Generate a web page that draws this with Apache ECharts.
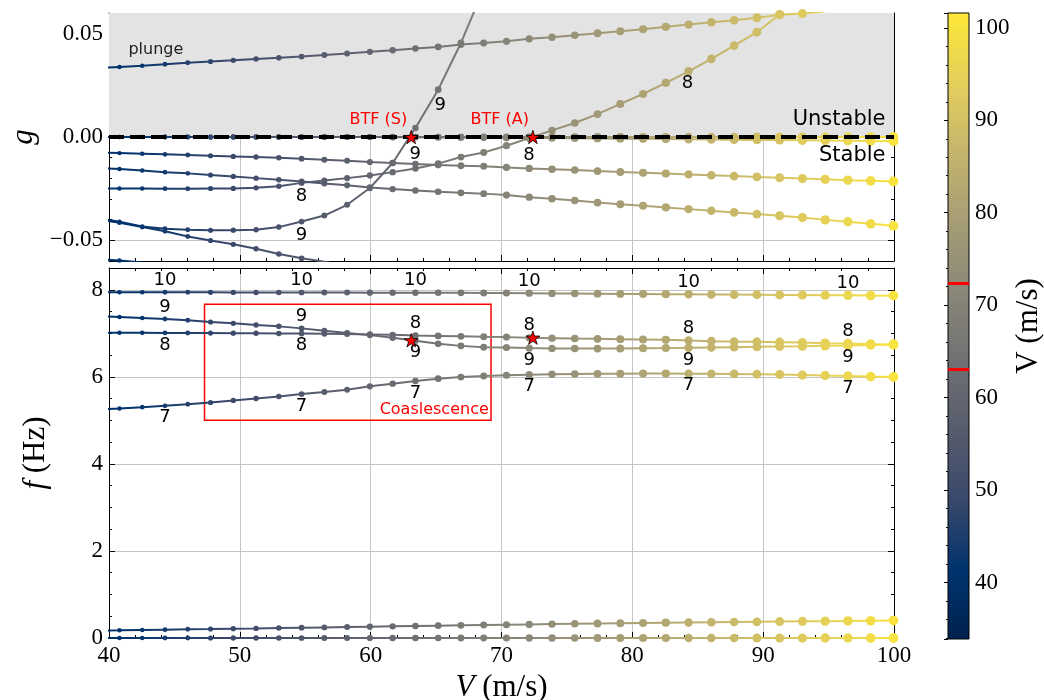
<!DOCTYPE html>
<html>
<head>
<meta charset="utf-8">
<script src="https://cdn.jsdelivr.net/npm/echarts@6/dist/echarts.min.js"></script>
<style>
  html, body { margin: 0; padding: 0; background: #ffffff; }
  #chart { width: 1044px; height: 700px; }
</style>
</head>
<body>
<div id="chart"></div>
<script>
// Airspeed samples V (m/s); the first one lies just left of the axis window
const speed = [39.06, 40.80, 42.54, 44.28, 46.02, 47.76, 49.50, 51.24, 52.98, 54.72,
  56.46, 58.20, 59.94, 61.68, 63.42, 65.16, 66.90, 68.64, 70.38, 72.12,
  73.86, 75.60, 77.34, 79.08, 80.82, 82.56, 84.30, 86.04, 87.78, 89.52,
  91.26, 93.00, 94.74, 96.48, 98.22, 99.96];

// Damping g of each branch ('-' = off the plotted range)
const gPlunge = [0.0333, 0.0339, 0.0345, 0.0352, 0.0359, 0.0365, 0.0371, 0.0378, 0.0383, 0.0389,
  0.0397, 0.0404, 0.0412, 0.0420, 0.0428, 0.0436, 0.0447, 0.0455, 0.0463, 0.0475,
  0.0483, 0.0492, 0.0502, 0.0512, 0.0521, 0.0533, 0.0544, 0.0555, 0.0565, 0.0577,
  0.0591, 0.0597, 0.0609, 0.0620, 0.0632, 0.0644];
const gRigid = [0, 0, 0, 0, 0, 0, 0, 0, 0, 0, 0, 0, 0, 0, 0, 0, 0, 0,
  0, 0, 0, 0, 0, 0, 0, 0, 0, 0, 0, 0, 0, 0, 0, 0, 0, 0];
const gLow = [0, 0, 0, 0, 0, 0, 0, 0, 0, 0, 0, 0, 0,
  -0.0001, -0.0001, -0.0002, -0.0002, -0.0003, -0.0004, -0.0005, -0.0005, -0.0006, -0.0007,
  -0.0008, -0.0009, -0.0010, -0.0011, -0.0012, -0.0013, -0.0014, -0.0015, -0.0016, -0.0017,
  -0.0018, -0.0019, -0.0020];
const gMode7 = [-0.0075, -0.0078, -0.0081, -0.0084, -0.0087, -0.0091, -0.0094, -0.0097, -0.0100, -0.0105,
  -0.0110, -0.0115, -0.0121, -0.0126, -0.0131, -0.0136, -0.0139, -0.0142, -0.0147, -0.0152,
  -0.0156, -0.0160, -0.0165, -0.0169, -0.0173, -0.0177, -0.0181, -0.0185, -0.0189, -0.0193,
  -0.0197, -0.0201, -0.0205, -0.0209, -0.0212, -0.0215];
const gMode10 = [-0.0149, -0.0155, -0.0162, -0.0170, -0.0176, -0.0184, -0.0191, -0.0199, -0.0207, -0.0215,
  -0.0225, -0.0234, -0.0244, -0.0252, -0.0259, -0.0265, -0.0270, -0.0274, -0.0281, -0.0291,
  -0.0299, -0.0307, -0.0317, -0.0325, -0.0333, -0.0341, -0.0349, -0.0357, -0.0365, -0.0373,
  -0.0381, -0.0390, -0.0401, -0.0410, -0.0420, -0.0430];
const gMode8 = [-0.0249, -0.0249, -0.0249, -0.0250, -0.0250, -0.0249, -0.0249, -0.0246, -0.0238, -0.0222,
  -0.0210, -0.0199, -0.0186, -0.0170, -0.0152, -0.0129, -0.0097, -0.0075, -0.0042, -0.0005,
  0.0032, 0.0068, 0.0111, 0.0160, 0.0208, 0.0262, 0.0318, 0.0378, 0.0442, 0.0507,
  0.0593, 0.0680, '-', '-', '-', '-'];
const gMode9 = [-0.0390, -0.0410, -0.0433, -0.0444, -0.0449, -0.0451, -0.0451, -0.0449, -0.0436, -0.0409,
  -0.0380, -0.0328, -0.0247, -0.0126, 0.0044, 0.0229, 0.0455, 0.0717, 0.1000, '-',
  '-', '-', '-', '-', '-', '-', '-', '-', '-', '-', '-', '-', '-', '-', '-', '-'];
const gLag = [-0.0398, -0.0415, -0.0436, -0.0456, -0.0481, -0.0501, -0.0519, -0.0541, -0.0566, -0.0587,
  -0.0603, -0.0625, -0.0648, '-', '-', '-', '-', '-', '-', '-',
  '-', '-', '-', '-', '-', '-', '-', '-', '-', '-', '-', '-', '-', '-', '-', '-'];
const gDeep = [-0.0590, -0.0598, -0.0607, '-', '-', '-', '-', '-', '-', '-',
  '-', '-', '-', '-', '-', '-', '-', '-', '-', '-',
  '-', '-', '-', '-', '-', '-', '-', '-', '-', '-', '-', '-', '-', '-', '-', '-'];

// Frequencies f (Hz)
const fRigid = [0, 0, 0, 0, 0, 0, 0, 0, 0, 0, 0, 0, 0, 0, 0, 0, 0, 0,
  0, 0, 0, 0, 0, 0, 0, 0, 0, 0, 0, 0, 0, 0, 0, 0, 0, 0];
const fLow = [0.169, 0.176, 0.184, 0.191, 0.199, 0.206, 0.214, 0.221, 0.229, 0.236,
  0.244, 0.252, 0.260, 0.268, 0.276, 0.283, 0.291, 0.298, 0.305, 0.312,
  0.319, 0.326, 0.333, 0.339, 0.345, 0.351, 0.357, 0.362, 0.367, 0.372,
  0.377, 0.382, 0.387, 0.392, 0.396, 0.400];
const fMode7 = [5.245, 5.273, 5.303, 5.335, 5.372, 5.411, 5.457, 5.503, 5.550, 5.603,
  5.650, 5.704, 5.781, 5.843, 5.903, 5.958, 5.995, 6.018, 6.035, 6.050,
  6.060, 6.066, 6.070, 6.073, 6.075, 6.075, 6.073, 6.070, 6.066, 6.060,
  6.052, 6.042, 6.030, 6.019, 6.006, 5.996];
const fMode8 = [7.013, 7.012, 7.010, 7.008, 7.006, 7.004, 7.002, 7.000, 6.997, 6.994,
  6.990, 6.984, 6.975, 6.965, 6.950, 6.940, 6.930, 6.920, 6.912, 6.897,
  6.889, 6.881, 6.874, 6.866, 6.858, 6.851, 6.835, 6.820, 6.812, 6.805,
  6.797, 6.789, 6.774, 6.766, 6.751, 6.743];
const fMode9 = [7.395, 7.374, 7.351, 7.328, 7.298, 7.259, 7.228, 7.189, 7.159, 7.113,
  7.058, 7.005, 6.958, 6.896, 6.827, 6.758, 6.711, 6.681, 6.674, 6.660,
  6.652, 6.650, 6.650, 6.651, 6.656, 6.660, 6.666, 6.674, 6.681, 6.689,
  6.697, 6.704, 6.712, 6.720, 6.733, 6.743];
const fMode10 = [7.945, 7.945, 7.944, 7.943, 7.942, 7.941, 7.940, 7.939, 7.938, 7.937,
  7.936, 7.935, 7.934, 7.933, 7.932, 7.931, 7.930, 7.928, 7.926, 7.922,
  7.917, 7.913, 7.909, 7.905, 7.902, 7.899, 7.896, 7.893, 7.890, 7.886,
  7.882, 7.879, 7.875, 7.872, 7.868, 7.865];

// Flutter onsets: symmetric and antisymmetric
const btfSpeed = [63.1, 72.4];
const btfDamping = [0, 0];
const btfFreq = [6.84, 6.90];
const btfNames = ['BTF (S)', 'BTF (A)'];
const btfModes = ['9', '8'];

// Frequency coalescence window
const boxSpeed = [47.3, 69.2];
const boxFreq = [5.0, 7.67];

// Axis ranges
const speedRange = [40, 100];
const gRange = [-0.06, 0.06];
const fRange = [0, 8.5];
const colorRange = [33.9, 101.6];

// Samples at which the mode numbers are printed
const modeLabelIdx = [3, 9, 14, 19, 26, 33];

// cividis colour map
const cividis = ['#00224e', '#00336f', '#39486b', '#575c6d', '#707173',
  '#8a8779', '#a69d75', '#c4b56c', '#e4cf5b', '#fee838'];

const SERIF = 'Liberation Serif';
const SANS = 'DejaVu Sans';

const toPts = ys => speed.map((v, i) => [v, ys[i]]);
const markerSize = val => 4.4 + (val[0] - 40) * 0.09;

function curve(name, ys, ax) {
  return {
    name, type: 'line', xAxisIndex: ax, yAxisIndex: ax, data: toPts(ys),
    symbol: 'circle', symbolSize: markerSize, showSymbol: true,
    itemStyle: { opacity: 1 },
    lineStyle: { width: 2 }, clip: true, z: 3, silent: true
  };
}
// branch lying on the stability boundary: line under the dashes, dots above
function boundaryLine(name, ys) {
  return {
    name, type: 'line', xAxisIndex: 0, yAxisIndex: 0, data: toPts(ys),
    showSymbol: false, lineStyle: { width: 2 }, clip: true, z: 1, silent: true
  };
}
function boundaryDots(name, ys) {
  return {
    name, type: 'scatter', xAxisIndex: 0, yAxisIndex: 0, data: toPts(ys),
    symbol: 'circle', symbolSize: markerSize, itemStyle: { opacity: 1 },
    clip: true, z: 3, silent: true
  };
}

function textLayer(ax, items, base) {
  return {
    type: 'scatter', xAxisIndex: ax, yAxisIndex: ax, silent: true, z: 6,
    symbol: 'circle', symbolSize: 1, itemStyle: { color: 'rgba(0,0,0,0)', opacity: 1 }, clip: false,
    label: Object.assign({
      show: true, position: 'inside', formatter: '{b}', opacity: 1,
      fontFamily: SANS, fontSize: 18, color: '#000', textBorderWidth: 0
    }, base || {}),
    data: items.map(it => ({
      name: it.text, value: [it.x, it.y],
      label: Object.assign({ offset: [it.dx || 0, it.dy || 0] }, it.style || {})
    }))
  };
}

const series = [];

// unstable half-plane of the damping panel
series.push({
  type: 'line', xAxisIndex: 0, yAxisIndex: 0, data: [], z: -1, silent: true,
  markArea: {
    silent: true, itemStyle: { color: '#e3e3e3', opacity: 1 },
    data: [[{ yAxis: 0 }, { yAxis: gRange[1] }]]
  }
});
// stability boundary g = 0
series.push({
  type: 'line', xAxisIndex: 0, yAxisIndex: 0, data: [], z: 2, silent: true,
  markLine: {
    silent: true, symbol: 'none', label: { show: false },
    lineStyle: { color: '#000', width: 4, type: [15, 6], opacity: 1 },
    data: [{ yAxis: 0 }]
  }
});

const curveIdx = [];
function addColored(s) { curveIdx.push(series.length); series.push(s); }

addColored(boundaryLine('rigid', gRigid));
addColored(boundaryLine('low', gLow));
addColored(boundaryDots('rigid dots', gRigid));
addColored(boundaryDots('low dots', gLow));
[['plunge', gPlunge], ['mode 7', gMode7], ['mode 10', gMode10],
 ['mode 8', gMode8], ['mode 9', gMode9], ['lag', gLag], ['deep', gDeep]].forEach(([n, ys]) => {
  addColored(curve(n, ys, 0));
});
[['rigid f', fRigid], ['low f', fLow], ['mode 7 f', fMode7], ['mode 8 f', fMode8],
 ['mode 9 f', fMode9], ['mode 10 f', fMode10]].forEach(([n, ys]) => {
  addColored(curve(n, ys, 2));
});

// coalescence window
series.push({
  type: 'line', xAxisIndex: 2, yAxisIndex: 2, data: [], z: 4, silent: true,
  markArea: {
    silent: true,
    itemStyle: { color: 'rgba(0,0,0,0)', borderColor: '#ff0000', borderWidth: 1.5, opacity: 1 },
    label: {
      show: true, position: 'insideBottomRight', distance: 3,
      formatter: 'Coaslescence', color: '#ff0000', fontFamily: SANS, fontSize: 16
    },
    data: [[{ coord: [boxSpeed[0], boxFreq[0]] }, { coord: [boxSpeed[1], boxFreq[1]] }]]
  }
});

// flutter stars
const STAR = 'path://M0,-1L0.2245,-0.309L0.951,-0.309L0.363,0.118L0.588,0.809L0,0.382L-0.588,0.809L-0.363,0.118L-0.951,-0.309L-0.2245,-0.309Z';
[[0, btfDamping], [2, btfFreq]].forEach(([ax, ys]) => {
  series.push({
    type: 'scatter', xAxisIndex: ax, yAxisIndex: ax, silent: true, z: 7,
    symbol: STAR, symbolSize: 14, symbolKeepAspect: true,
    itemStyle: { color: '#ff0000', borderColor: '#000', borderWidth: 0.8, opacity: 1 },
    data: btfSpeed.map((v, i) => [v, ys[i]])
  });
});

// mode numbers in the frequency panel
const fLabels = [];
modeLabelIdx.forEach((k, j) => {
  fLabels.push({ text: '10', x: speed[k], y: fMode10[k], dy: -12 });
  fLabels.push({ text: '9', x: speed[k], y: fMode9[k], dy: j < 2 ? -12 : 12 });
  fLabels.push({ text: '8', x: speed[k], y: fMode8[k], dy: j < 2 ? 12 : -12 });
  fLabels.push({ text: '7', x: speed[k], y: fMode7[k], dy: 12 });
});
series.push(textLayer(2, fLabels));

// annotations in the damping panel
const last = speed.length - 1;
const small = { fontSize: 16 };
const gLabels = [
  { text: '8', x: speed[9], y: gMode8[9], dy: 13 },
  { text: '9', x: speed[9], y: gMode9[9], dy: 14 },
  { text: '9', x: speed[15], y: gMode9[15], dx: 2, dy: 16 },
  { text: '8', x: speed[26], y: gMode8[26], dx: -1, dy: 12 },
  { text: btfModes[0], x: btfSpeed[0], y: btfDamping[0], dx: 4, dy: 17 },
  { text: btfModes[1], x: btfSpeed[1], y: btfDamping[1], dx: -4, dy: 18 },
  { text: btfNames[0], x: btfSpeed[0], y: btfDamping[0], dx: -4, dy: -17,
    style: Object.assign({ align: 'right', color: '#ff0000' }, small) },
  { text: btfNames[1], x: btfSpeed[1], y: btfDamping[1], dx: -4, dy: -17,
    style: Object.assign({ align: 'right', color: '#ff0000' }, small) },
  { text: 'plunge', x: speed[1], y: gPlunge[1], dx: 9, dy: -17,
    style: Object.assign({ align: 'left', color: '#222' }, small) },
  { text: 'Unstable', x: speed[last], y: 0, dx: -8, dy: -17,
    style: { align: 'right', fontSize: 21 } },
  { text: 'Stable', x: speed[last], y: 0, dx: -8, dy: 19,
    style: { align: 'right', fontSize: 21 } }
];
series.push(textLayer(0, gLabels));

// colour bar
series.push({
  type: 'custom', xAxisIndex: 4, yAxisIndex: 4, z: -1, silent: true, clip: false,
  data: [[0, colorRange[0], 1, colorRange[1]]],
  renderItem: (params, api) => {
    const p0 = api.coord([api.value(0), api.value(1)]);
    const p1 = api.coord([api.value(2), api.value(3)]);
    return {
      type: 'rect',
      shape: { x: p0[0], y: p1[1], width: p1[0] - p0[0], height: p0[1] - p1[1] },
      style: {
        fill: {
          type: 'linear', x: 0, y: 1, x2: 0, y2: 0,
          colorStops: cividis.map((c, i) => ({ offset: i / (cividis.length - 1), color: c }))
        },
        stroke: '#000', lineWidth: 1
      }
    };
  },
  markLine: {
    silent: true, symbol: 'none', label: { show: false },
    lineStyle: { color: '#ff0000', width: 3, type: 'solid', opacity: 1 },
    data: btfSpeed.map(v => ({ yAxis: v }))
  }
});

const tickStyle = { lineStyle: { color: '#000', width: 1 } };
const gridLine = { show: true, lineStyle: { color: '#c4c4c4', width: 1 } };
const tickFont = { fontFamily: SERIF, fontSize: 23, color: '#000' };
const minusFmt = d => v => (v < 0 ? '\u2212' : '') + Math.abs(v).toFixed(d);
const titleFont = 31;

function xAxisFor(grid, pos, opts) {
  return Object.assign({
    type: 'value', gridIndex: grid, position: pos, min: speedRange[0], max: speedRange[1], interval: 10,
    axisLine: { show: true, onZero: false, lineStyle: { color: '#000', width: 1 } },
    axisTick: Object.assign({ show: true, inside: true, length: 6 }, tickStyle),
    minorTick: Object.assign({ show: true, splitNumber: 5, length: 3 }, tickStyle),
    axisLabel: { show: false },
    splitLine: { show: false }
  }, opts || {});
}
function yAxisFor(grid, pos, range, extra) {
  return Object.assign({
    type: 'value', gridIndex: grid, position: pos, min: range[0], max: range[1],
    axisLine: { show: true, onZero: false, lineStyle: { color: '#000', width: 1 } },
    axisTick: Object.assign({ show: true, inside: true, length: 6 }, tickStyle),
    minorTick: Object.assign({ show: true, splitNumber: 5, length: 3 }, tickStyle),
    axisLabel: { show: false },
    splitLine: { show: false }
  }, extra || {});
}

const option = {
  animation: false,
  backgroundColor: '#ffffff',
  grid: [
    { left: 109, right: 150, top: 13, height: 248, outerBoundsMode: 'none', containLabel: false },
    { left: 109, right: 150, top: 268, height: 370, outerBoundsMode: 'none', containLabel: false },
    { left: 948, width: 21, top: 13, height: 626, outerBoundsMode: 'none', containLabel: false }
  ],
  xAxis: [
    xAxisFor(0, 'bottom', { splitLine: gridLine }),
    xAxisFor(0, 'top'),
    xAxisFor(1, 'bottom', {
      splitLine: gridLine,
      axisLabel: Object.assign({ show: true, margin: 6 }, tickFont),
      name: '{it|V} (m/s)', nameLocation: 'middle', nameGap: 27,
      nameTextStyle: {
        fontFamily: SERIF, fontSize: titleFont, color: '#000',
        rich: { it: { fontFamily: SERIF, fontSize: titleFont, fontStyle: 'italic', color: '#000' } }
      }
    }),
    xAxisFor(1, 'top'),
    { type: 'value', gridIndex: 2, min: 0, max: 1, show: false }
  ],
  yAxis: [
    yAxisFor(0, 'left', gRange, {
      splitNumber: 2, splitLine: gridLine,
      axisLabel: Object.assign({ show: true, margin: 6, showMinLabel: false, showMaxLabel: false,
        formatter: minusFmt(2) }, tickFont),
      name: 'g', nameLocation: 'middle', nameRotate: 90, nameGap: 62,
      nameTextStyle: { fontFamily: SERIF, fontSize: titleFont, fontStyle: 'italic', color: '#000' }
    }),
    yAxisFor(0, 'right', gRange, { splitNumber: 2 }),
    yAxisFor(1, 'left', fRange, {
      interval: 2, splitLine: gridLine,
      minorTick: Object.assign({ show: true, splitNumber: 4, length: 3 }, tickStyle),
      axisLabel: Object.assign({ show: true, margin: 6, showMaxLabel: false }, tickFont),
      name: '{it|f} (Hz)', nameLocation: 'middle', nameRotate: 90, nameGap: 58,
      nameTextStyle: {
        fontFamily: SERIF, fontSize: titleFont, color: '#000',
        rich: { it: { fontFamily: SERIF, fontSize: titleFont, fontStyle: 'italic', color: '#000' } }
      }
    }),
    yAxisFor(1, 'right', fRange, {
      interval: 2,
      minorTick: Object.assign({ show: true, splitNumber: 4, length: 3 }, tickStyle)
    }),
    {
      type: 'value', gridIndex: 2, position: 'right', min: colorRange[0], max: colorRange[1],
      splitNumber: 7,
      axisLine: { show: false },
      axisTick: Object.assign({ show: true, inside: true, length: 4 }, tickStyle),
      minorTick: Object.assign({ show: true, splitNumber: 5, length: 2 }, tickStyle),
      axisLabel: Object.assign({ show: true, margin: 6, showMinLabel: false, showMaxLabel: false }, tickFont),
      splitLine: { show: false },
      name: 'V (m/s)', nameLocation: 'middle', nameRotate: 90, nameGap: 40,
      nameTextStyle: { fontFamily: SERIF, fontSize: titleFont, color: '#000' }
    }
  ],
  visualMap: {
    type: 'continuous', show: false, dimension: 0,
    min: colorRange[0], max: colorRange[1],
    seriesIndex: curveIdx,
    inRange: { color: cividis }
  },
  series
};

const chart = echarts.init(document.getElementById('chart'), null, { renderer: 'canvas' });
chart.setOption(option);
</script>
</body>
</html>
